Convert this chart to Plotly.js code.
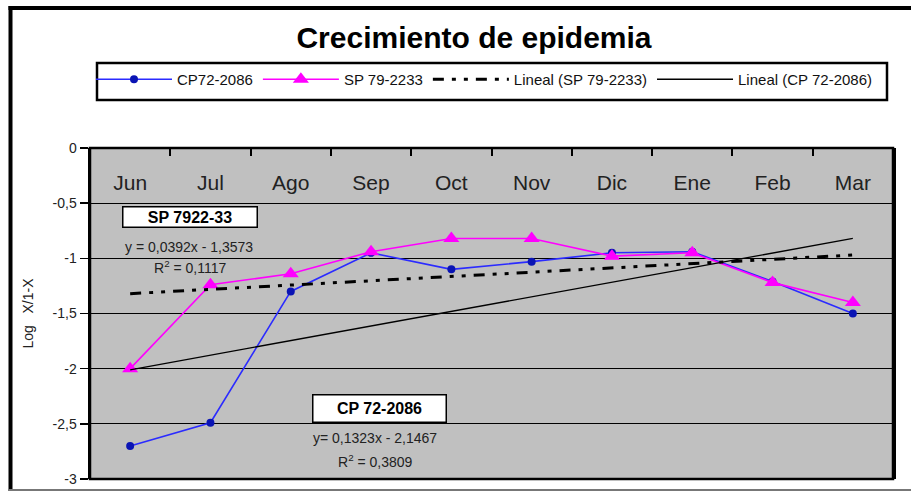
<!DOCTYPE html>
<html>
<head>
<meta charset="utf-8">
<script src="https://cdn.plot.ly/plotly-3.0.1.min.js"></script>
<style>html,body{margin:0;padding:0;background:#fff;}#chart{width:911px;height:491px;}</style>
</head>
<body>
<div id="chart"></div>
<script>
const months = ['Jun','Jul','Ago','Sep','Oct','Nov','Dic','Ene','Feb','Mar'];
const cp72 = [-2.70,-2.49,-1.30,-0.95,-1.10,-1.03,-0.95,-0.94,-1.21,-1.50];
const sp79 = [-2.00,-1.24,-1.14,-0.94,-0.82,-0.82,-0.98,-0.95,-1.22,-1.40];
const trendX = ['Jun','Mar'];
const spTrend = [-1.32,-0.97];
const cpTrend = [-2.01,-0.82];
const yTickVals = [0,-0.5,-1,-1.5,-2,-2.5,-3];
const yTickText = ['0','-0,5','-1','-1,5','-2','-2,5','-3'];
const seriesNames = ['CP72-2086','SP 79-2233','Lineal (SP 79-2233)','Lineal (CP 72-2086)'];

const FONT = 'Liberation Sans, Arial, sans-serif';

const traces = [
  {x: months, y: cp72, name: seriesNames[0], mode: 'lines+markers', legendrank: 1,
   line: {color: '#2b2bff', width: 1.6},
   marker: {symbol: 'circle', size: 8, color: '#0a14b4'}},
  {x: months, y: sp79, name: seriesNames[1], mode: 'lines+markers', legendrank: 2,
   line: {color: '#ff00ff', width: 1.6},
   marker: {symbol: 'triangle-up', size: 14, color: '#ff00ff'}},
  {x: trendX, y: spTrend, name: seriesNames[2], mode: 'lines', legendrank: 3,
   line: {color: '#000', width: 3, dash: '11px,8px,4px,8px,4px,8px'}},
  {x: trendX, y: cpTrend, name: seriesNames[3], mode: 'lines', legendrank: 4,
   line: {color: '#000', width: 1.3}}
];

const L = 90, T = 148, W = 803, H = 331;
function px(x){ return (x - L) / W; }
function py(y){ return (T + H - y) / H; }

const layout = {
  width: 911, height: 491,
  margin: {l: L, r: 911 - L - W, t: T, b: 491 - T - H},
  paper_bgcolor: '#fff',
  plot_bgcolor: '#c0c0c0',
  font: {family: FONT, color: '#222'},
  title: {text: 'Crecimiento de epidemia', font: {size: 30, family: FONT, color: '#000', weight: 'bold'},
          x: 474 / 911, xref: 'container', xanchor: 'center', y: 1 - 37 / 491, yref: 'container', yanchor: 'middle'},
  showlegend: true,
  legend: {orientation: 'h', x: px(91), y: py(63), xanchor: 'left', yanchor: 'top',
           font: {size: 15, family: FONT, color: '#111'}, bgcolor: 'rgba(0,0,0,0)', borderwidth: 0,
           itemwidth: 76, traceorder: 'normal'},
  xaxis: {type: 'category', categoryorder: 'array', categoryarray: months, range: [-0.5, 9.5],
          anchor: 'free', position: 1, side: 'bottom', ticks: 'outside', tickson: 'boundaries',
          ticklen: 7, tickwidth: 2, tickcolor: '#000', ticklabelstandoff: 20,
          showline: false, showgrid: false, zeroline: false,
          tickfont: {size: 21, family: FONT, color: '#222'}, fixedrange: true},
  yaxis: {range: [-3, 0], tickvals: yTickVals, ticktext: yTickText, ticks: 'outside', ticklen: 8,
          tickwidth: 1.5, tickcolor: '#000', showline: true, linewidth: 2.5, linecolor: '#000', mirror: true,
          showgrid: true, gridcolor: '#000', gridwidth: 1.2, zeroline: false,
          tickfont: {size: 14, family: FONT, color: '#222'},
          title: {text: 'Log\u00a0\u00a0\u00a0X/1-X', font: {size: 14, family: FONT, color: '#222'}, standoff: 16},
          fixedrange: true},
  shapes: [
    {type: 'rect', xref: 'paper', yref: 'paper', x0: 0, x1: 1, y0: 0, y1: 1, line: {color: '#000', width: 2.5}},
    {type: 'line', xref: 'paper', yref: 'paper', x0: px(10.5), x1: px(10.5), y0: py(6), y1: py(495), line: {color: '#000', width: 4}},
    {type: 'line', xref: 'paper', yref: 'paper', x0: px(8.5), x1: px(920), y0: py(8), y1: py(8), line: {color: '#000', width: 4}},
    {type: 'line', xref: 'paper', yref: 'paper', x0: px(8.5), x1: px(920), y0: py(490), y1: py(490), line: {color: '#777', width: 2}},
    {type: 'rect', xref: 'paper', yref: 'paper', x0: px(97), x1: px(887), y0: py(63), y1: py(100), line: {color: '#000', width: 2.5}}
  ],
  annotations: [
    {xref: 'paper', yref: 'paper', x: px(190), y: py(217), text: '<b>SP 7922-33</b>', showarrow: false,
     font: {size: 16, family: FONT, color: '#000'}, bgcolor: '#fff', bordercolor: '#000', borderwidth: 1.5,
     width: 131, height: 17, xanchor: 'center', yanchor: 'middle'},
    {xref: 'paper', yref: 'paper', x: px(189), y: py(247), text: 'y = 0,0392x - 1,3573', showarrow: false,
     font: {size: 14, family: FONT, color: '#222'}, xanchor: 'center', yanchor: 'middle'},
    {xref: 'paper', yref: 'paper', x: px(190), y: py(267), text: 'R<sup>2</sup> = 0,1117', showarrow: false,
     font: {size: 14, family: FONT, color: '#222'}, xanchor: 'center', yanchor: 'middle'},
    {xref: 'paper', yref: 'paper', x: px(379), y: py(408), text: '<b>CP 72-2086</b>', showarrow: false,
     font: {size: 16, family: FONT, color: '#000'}, bgcolor: '#fff', bordercolor: '#000', borderwidth: 1.5,
     width: 130, height: 24, xanchor: 'center', yanchor: 'middle'},
    {xref: 'paper', yref: 'paper', x: px(375), y: py(438), text: 'y= 0,1323x - 2,1467', showarrow: false,
     font: {size: 14, family: FONT, color: '#222'}, xanchor: 'center', yanchor: 'middle'},
    {xref: 'paper', yref: 'paper', x: px(375), y: py(461), text: 'R<sup>2</sup> = 0,3809', showarrow: false,
     font: {size: 14, family: FONT, color: '#222'}, xanchor: 'center', yanchor: 'middle'}
  ]
};

Plotly.newPlot('chart', traces, layout, {displayModeBar: false, staticPlot: true});
</script>
</body>
</html>
